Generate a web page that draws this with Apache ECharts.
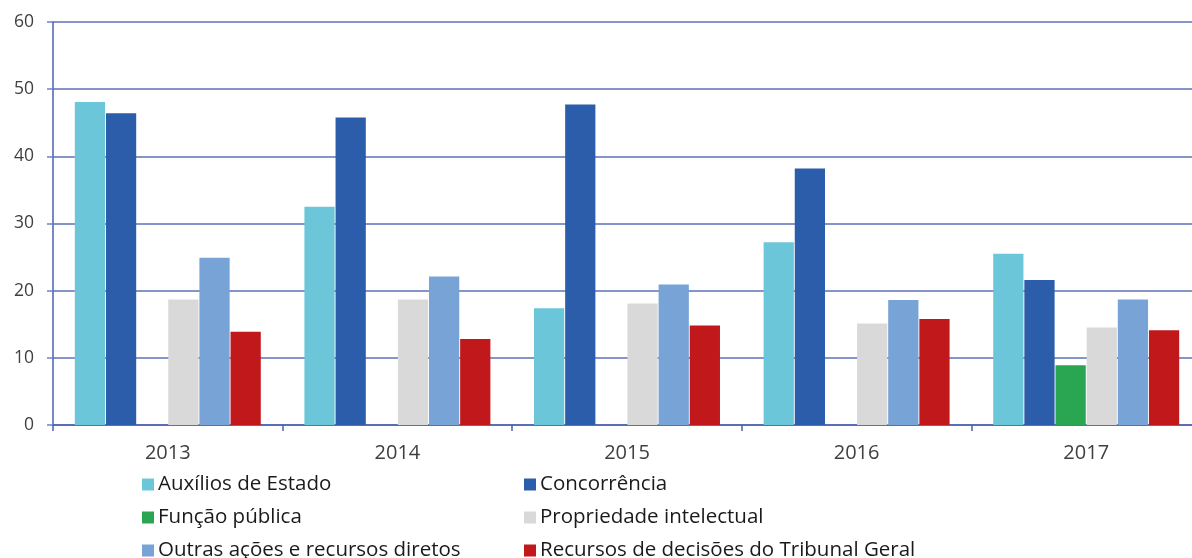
<!DOCTYPE html>
<html><head><meta charset="utf-8">
<script src="https://cdn.jsdelivr.net/npm/echarts@6/dist/echarts.min.js"></script>
<style>html,body{margin:0;padding:0;background:#fff}#c{width:1192px;height:558px}</style>
</head><body><div id="c"></div>
<script>
const categories = ['2013','2014','2015','2016','2017'];
const seriesNames = ['Auxílios de Estado','Concorrência','Função pública','Propriedade intelectual','Outras ações e recursos diretos','Recursos de decisões do Tribunal Geral'];
const auxilios = [48.1, 32.5, 17.4, 27.2, 25.5];
const concorrencia = [46.4, 45.8, 47.7, 38.2, 21.6];
const funcaoPublica = [null, null, null, null, 8.9];
const propriedade = [18.7, 18.7, 18.1, 15.1, 14.5];
const outras = [24.9, 22.1, 20.9, 18.6, 18.7];
const recursos = [13.9, 12.8, 14.8, 15.8, 14.1];
const yTicks = [0,10,20,30,40,50,60];

const colors = ['#6CC6DA','#2B5DAA','#2AA653','#D9D9D9','#77A3D6','#C0181B'];
const values = [auxilios, concorrencia, funcaoPublica, propriedade, outras, recursos];
const font = '"Open Sans", "Noto Sans", sans-serif';

const legendText = {fontSize: 20.5, color: '#1a1a1a', fontFamily: font, lineHeight: 20, padding: [0,0,0,-1]};
const chart = echarts.init(document.getElementById('c'));
chart.setOption({
  animation: false,
  textStyle: {fontFamily: font},
  grid: {left: 53, right: -9, top: 22, bottom: 133, containLabel: false, outerBoundsMode: 'none'},
  xAxis: {
    type: 'category', data: categories,
    axisLine: {lineStyle: {color: '#4A62B0', width: 1.5}},
    axisTick: {show: true, length: 6, lineStyle: {color: '#4A62B0', width: 1.5}},
    axisLabel: {color: '#404040', fontSize: 20, margin: 18, fontFamily: font}
  },
  yAxis: {
    type: 'value', min: yTicks[0], max: yTicks[yTicks.length-1], interval: 10,
    axisLine: {show: true, lineStyle: {color: '#4A62B0', width: 1.5}},
    axisTick: {show: true, length: 6, lineStyle: {color: '#6F82C2', width: 1.5}},
    axisLabel: {color: '#404040', fontSize: 17.5, margin: 19, fontFamily: font},
    splitLine: {lineStyle: {color: '#5C70B8', width: 1.5}}
  },
  legend: [
    {orient: 'vertical', left: 142, top: 474, height: 100, padding: 0, itemWidth: 12, itemHeight: 12, itemGap: 12,
     icon: 'rect', data: [seriesNames[0], seriesNames[2], seriesNames[4]], textStyle: legendText},
    {orient: 'vertical', left: 524, top: 474, height: 100, padding: 0, itemWidth: 12, itemHeight: 12, itemGap: 12,
     icon: 'rect', data: [seriesNames[1], seriesNames[3], seriesNames[5]], textStyle: legendText}
  ],
  series: seriesNames.map((n, i) => ({
    name: n, type: 'bar', data: values[i],
    barGap: '3%', barCategoryGap: '19%',
    itemStyle: {color: colors[i]}
  }))
});
</script>
</body></html>
